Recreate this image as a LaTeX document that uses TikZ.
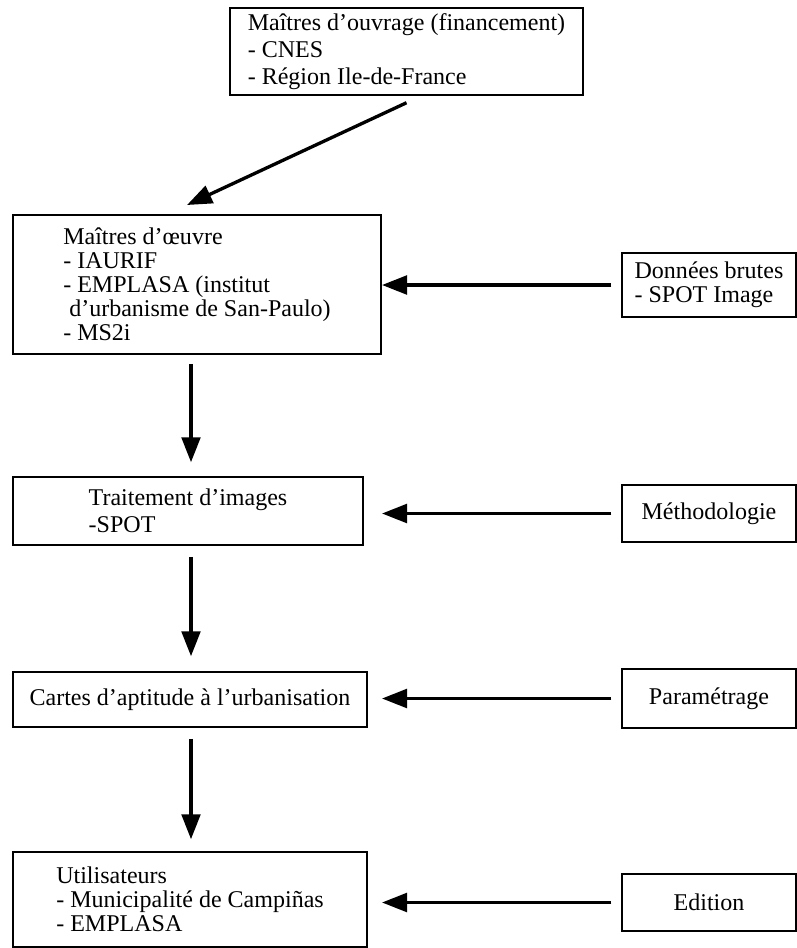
\documentclass[tikz,border=0pt]{standalone}
\usepackage{fontspec}
\setmainfont{Liberation Serif}
\usepackage{tikz}
\usetikzlibrary{arrows.meta,calc}

\tikzset{
    boite/.style={draw, line width=0.45mm, align=left, inner sep=0pt,
        font=\fontsize{20.5}{20.5}\selectfont},
    fleche/.style={-{Triangle[length=7.5mm,width=5.6mm]}, line width=1mm},
}

\begin{document}
\begin{tikzpicture}[x=0.3mm, y=-0.3mm]
    \useasboundingbox (0,0) rectangle (797,948);

    % Left column
    \node[boite, font=\fontsize{20.5}{23}\selectfont, minimum width=105.9mm, minimum height=26.1mm] (ouvrage) at (406.5,51.5)
        {Maîtres d'ouvrage (financement)\\- CNES\\- Région Ile-de-France};
    \node[boite, minimum width=110.4mm, minimum height=41.7mm] (oeuvre) at (197,284.5)
        {Maîtres d'œuvre\\- IAURIF\\- EMPLASA (institut\\\ d'urbanisme de San-Paulo)\\- MS2i};
    \node[boite, font=\fontsize{20.5}{23}\selectfont, minimum width=105mm, minimum height=20.4mm] (traitement) at (188,511)
        {Traitement d'images\\-SPOT};
    \node[boite, minimum width=106.2mm, minimum height=16.5mm] (cartes) at (190,699.5)
        {Cartes d'aptitude à l'urbanisation};
    \node[boite, minimum width=106.2mm, minimum height=28.5mm] (utilis) at (190,899.5)
        {Utilisateurs\\- Municipalité de Campiñas\\- EMPLASA};

    % Right column
    \node[boite, minimum width=52.2mm, minimum height=19.2mm] (donnees) at (709,285)
        {Données brutes\\- SPOT Image};
    \node[boite, minimum width=52.2mm, minimum height=17.1mm] (methodo) at (709,513.5)
        {Méthodologie};
    \node[boite, minimum width=52.2mm, minimum height=17.7mm] (param) at (709,698.5)
        {Paramétrage};
    \node[boite, minimum width=52.2mm, minimum height=17.1mm] (edition) at (709,902.5)
        {Edition};

    \coordinate (pointe) at (187,205);
    \coordinate (colonne) at (191,0);
    \coordinate (pointes) at (382,0);

    % Arrows down
    \draw[fleche] ($(ouvrage.south)+(0,7)$) -- (pointe);
    \draw[fleche] ($(oeuvre.south -| colonne)+(0,9)$) -- ($(traitement.north -| colonne)+(0,-14)$);
    \draw[fleche] ($(traitement.south -| colonne)+(0,11)$) -- ($(cartes.north -| colonne)+(0,-15)$);
    \draw[fleche] ($(cartes.south -| colonne)+(0,11)$) -- ($(utilis.north -| colonne)+(0,-12)$);

    % Arrows from the right
    \draw[fleche] ($(donnees.west)+(-10,0)$) -- (donnees.west -| pointes);
    \draw[fleche] ($(methodo.west)+(-10,0)$) -- (methodo.west -| pointes);
    \draw[fleche] ($(param.west)+(-10,0)$) -- (param.west -| pointes);
    \draw[fleche] ($(edition.west)+(-10,0)$) -- (edition.west -| pointes);
\end{tikzpicture}
\end{document}
